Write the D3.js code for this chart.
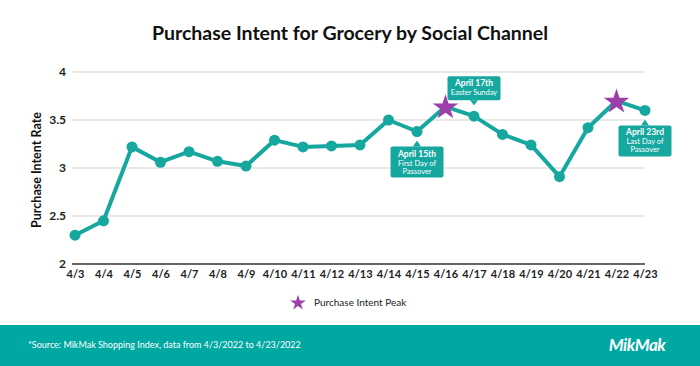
<!DOCTYPE html>
<html>
<head>
<meta charset="utf-8">
<script src="https://cdn.jsdelivr.net/npm/d3@7"></script>
<style>
  body { margin: 0; background: #fff; }
  svg { display: block; font-family: Lato, "Open Sans", sans-serif; }
</style>
</head>
<body>
<div id="chart"></div>
<script>
const dates = ["4/3","4/4","4/5","4/6","4/7","4/8","4/9","4/10","4/11","4/12","4/13",
  "4/14","4/15","4/16","4/17","4/18","4/19","4/20","4/21","4/22","4/23"];
const intentRate = [2.30, 2.45, 3.22, 3.06, 3.17, 3.07, 3.02, 3.29, 3.22, 3.23, 3.24,
  3.50, 3.38, 3.64, 3.54, 3.35, 3.24, 2.91, 3.42, 3.70, 3.60];
const peakDates = ["4/16", "4/22"];
const yTicks = [2, 2.5, 3, 3.5, 4];
const callouts = [
  { date: "4/15", title: "April 15th", lines: ["First Day of", "Passover"], side: "below" },
  { date: "4/17", title: "April 17th", lines: ["Easter Sunday"], side: "above" },
  { date: "4/23", title: "April 23rd", lines: ["Last Day of", "Passover"], side: "below" }
];

const width = 700, height = 366;
const teal = "#16a79f";
const purple = "#9c3fa9";

const svg = d3.select("#chart").append("svg")
  .attr("width", width)
  .attr("height", height);

const x = d3.scalePoint().domain(dates).range([75, 645]);
const y = d3.scaleLinear().domain([2, 4]).range([264, 72]);

// title
svg.append("text")
  .attr("x", 350).attr("y", 40)
  .attr("text-anchor", "middle")
  .attr("font-size", 19.5).attr("font-weight", 700)
  .attr("fill", "#111")
  .text("Purchase Intent for Grocery by Social Channel");

// gridlines
svg.append("g")
  .selectAll("line")
  .data(yTicks.filter(d => d > 2))
  .enter().append("line")
  .attr("x1", 72).attr("x2", 645)
  .attr("y1", d => y(d)).attr("y2", d => y(d))
  .attr("stroke", "#e2e2e2").attr("stroke-width", 1.5);

// y tick labels
svg.append("g")
  .selectAll("text")
  .data(yTicks)
  .enter().append("text")
  .attr("x", 66).attr("y", d => y(d) + 4)
  .attr("text-anchor", "end")
  .attr("font-size", 12).attr("font-weight", 700)
  .attr("fill", "#222")
  .text(d => d);

// x axis
const xAxis = svg.append("g")
  .attr("transform", "translate(0,264)")
  .call(d3.axisBottom(x).tickSize(0).tickPadding(6));
xAxis.select(".domain").attr("stroke", "#333").attr("stroke-width", 1.5)
  .attr("d", "M72,0H645");
xAxis.selectAll("text")
  .attr("font-family", "Lato, sans-serif")
  .attr("font-size", 11).attr("font-weight", 700)
  .attr("fill", "#222");

// y axis label
svg.append("text")
  .attr("transform", "translate(41,170) rotate(-90)")
  .attr("text-anchor", "middle")
  .attr("font-size", 12.5).attr("font-weight", 700)
  .attr("fill", "#111")
  .text("Purchase Intent Rate");

// line
const line = d3.line()
  .x((d, i) => x(dates[i]))
  .y(d => y(d));

svg.append("path")
  .datum(intentRate)
  .attr("d", line)
  .attr("fill", "none")
  .attr("stroke", teal)
  .attr("stroke-width", 4)
  .attr("stroke-linejoin", "round");

svg.append("g")
  .selectAll("circle")
  .data(dates.filter(d => !peakDates.includes(d)))
  .enter().append("circle")
  .attr("cx", d => x(d))
  .attr("cy", d => y(intentRate[dates.indexOf(d)]))
  .attr("r", 5.5)
  .attr("fill", teal);

// stars
const star = d3.symbol().type(d3.symbolStar).size(200);
svg.append("g")
  .selectAll("path")
  .data(peakDates)
  .enter().append("path")
  .attr("d", star)
  .attr("transform", d => `translate(${x(d)},${y(intentRate[dates.indexOf(d)]) + 1})`)
  .attr("fill", purple);

// callouts
const boxW = 53;
callouts.forEach(c => {
  const px = x(c.date);
  const py = y(intentRate[dates.indexOf(c.date)]);
  const nLines = 1 + c.lines.length;
  const boxH = nLines === 2 ? 24 : 31;
  const g = svg.append("g");
  let top, tipY, baseY;
  if (c.side === "below") {
    tipY = py + 9;
    top = tipY + 6;
    baseY = top;
  } else {
    tipY = py - 11;
    top = tipY - 5 - boxH;
    baseY = top + boxH;
  }
  const bx = px - boxW / 2;
  g.append("rect")
    .attr("x", bx).attr("y", top)
    .attr("width", boxW).attr("height", boxH)
    .attr("rx", 2)
    .attr("fill", teal);
  g.append("path")
    .attr("d", `M${px - 4},${baseY}L${px},${tipY}L${px + 4},${baseY}Z`)
    .attr("fill", teal);
  g.append("text")
    .attr("x", px).attr("y", top + 10)
    .attr("text-anchor", "middle")
    .attr("font-size", 8.5).attr("font-weight", 700)
    .attr("fill", "#fff")
    .text(c.title);
  c.lines.forEach((t, i) => {
    g.append("text")
      .attr("x", px).attr("y", top + 19 + i * 8)
      .attr("text-anchor", "middle")
      .attr("font-size", 7.5)
      .attr("fill", "#fff")
      .text(t);
  });
});

// legend
svg.append("path")
  .attr("d", d3.symbol().type(d3.symbolStar).size(75))
  .attr("transform", "translate(298,303)")
  .attr("fill", purple);
svg.append("text")
  .attr("x", 314).attr("y", 306)
  .attr("font-size", 10)
  .attr("fill", "#222")
  .text("Purchase Intent Peak");

// footer
svg.append("rect")
  .attr("x", 0).attr("y", 325)
  .attr("width", width).attr("height", height - 325)
  .attr("fill", "#00a8a2");
svg.append("text")
  .attr("x", 28).attr("y", 348)
  .attr("font-size", 9)
  .attr("fill", "#fff")
  .text("*Source: MikMak Shopping Index, data from 4/3/2022 to 4/23/2022");
svg.append("text")
  .attr("x", 637).attr("y", 351)
  .attr("text-anchor", "middle")
  .attr("font-size", 17).attr("font-weight", 700)
  .attr("font-style", "italic")
  .attr("letter-spacing", -0.5)
  .attr("fill", "#fff")
  .text("MikMak");
</script>
</body>
</html>
